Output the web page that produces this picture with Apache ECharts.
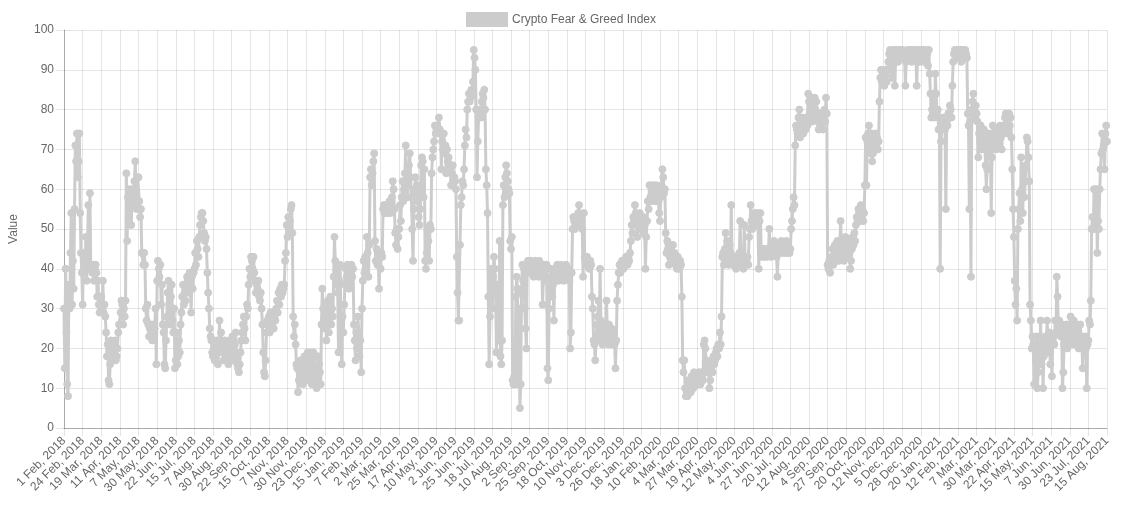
<!DOCTYPE html>
<html>
<head>
<meta charset="utf-8">
<script src="https://cdn.jsdelivr.net/npm/echarts@6/dist/echarts.min.js"></script>
<style>
html,body{margin:0;padding:0;background:#fff;}
#chart{width:1122px;height:506px;}
</style>
</head>
<body>
<div id="chart"></div>
<script>
// Daily index values, 1 Feb 2018 .. 15 Aug 2021 (each line = 23 days, starting at an axis label date)
const fngPart1 = [
30,15,40,24,11,8,36,30,44,54,31,42,35,55,71,67,74,63,67,74,54,44,39,
31,44,39,41,48,37,44,56,40,59,41,40,39,41,37,40,41,39,33,37,31,29,33,
33,30,37,29,31,28,24,18,21,12,11,16,22,17,19,21,18,22,17,18,20,24,26,
26,29,32,31,26,30,28,32,64,47,58,53,60,55,51,57,60,56,62,67,58,55,63,
63,57,53,55,44,44,41,44,41,30,27,31,26,23,25,26,24,22,26,23,25,30,16,
37,42,40,38,41,31,36,26,24,16,15,22,28,34,37,31,26,33,36,27,24,30,15,
17,24,16,18,22,19,26,29,33,36,31,34,32,35,38,37,34,39,36,29,38,35,39,
40,44,41,47,45,43,48,51,53,54,54,52,49,47,48,45,39,34,30,25,23,22,19,
18,20,17,19,22,21,16,19,27,20,24,21,19,17,20,22,18,21,19,16,20,22,18,
20,23,17,19,21,24,18,16,15,14,16,19,22,24,26,28,25,22,28,31,30,36,40,
38,43,42,40,43,39,37,34,36,35,37,33,32,34,30,26,19,14,13,17,24,27,26,
28,24,29,27,26,29,25,28,27,30,32,29,34,31,35,33,36,34,35,36,42,44,51,
48,53,50,52,55,56,49,28,23,26,21,16,15,9,12,14,17,13,15,11,14,18,16,
12,15,19,13,16,19,14,11,17,19,13,15,12,10,14,18,16,14,11,26,35,30,27
];
const fngPart2 = [
25,31,22,28,32,24,29,33,26,30,28,38,48,42,36,40,34,19,37,41,26,16,28,
24,31,36,40,38,41,37,35,39,36,41,38,40,26,22,17,24,20,28,24,18,22,14,
30,37,42,39,43,40,48,44,38,46,63,65,61,64,67,69,47,42,45,41,44,35,43,
40,44,43,55,56,54,55,56,54,56,55,57,54,56,58,62,60,55,49,46,50,45,48,
50,56,52,58,62,57,60,64,71,62,58,61,66,69,63,58,50,42,55,60,63,59,61,
57,53,51,55,66,68,67,58,65,42,40,44,50,47,42,51,50,64,68,70,72,76,74,
75,76,74,78,75,74,65,72,70,74,69,71,64,70,67,68,66,65,61,64,66,62,63,
62,60,43,34,27,27,46,56,58,62,61,65,71,75,73,80,82,84,82,83,85,84,87,
95,93,90,80,63,72,78,80,79,78,82,84,83,85,80,65,61,54,33,16,28,40,34,
30,38,43,40,35,19,36,30,22,47,18,16,22,56,61,58,63,66,64,62,60,59,47,
45,48,12,11,13,11,33,38,35,11,30,5,11,34,41,37,40,30,25,20,40,42,39,
41,40,42,39,41,38,40,42,39,41,40,38,42,40,39,41,31,38,41,37,40,41,15,
12,30,35,40,38,33,36,27,39,40,38,41,39,37,40,38,41,40,39,37,40,38,41,
39,40,38,37,20,24,39,50,53,52,50,53,51,52,54,56,51,53,52,50,38,54,43
];
const fngPart3 = [
42,41,43,42,41,40,42,41,33,30,22,21,17,22,26,28,32,22,40,27,24,21,26,
23,25,22,32,24,21,26,23,22,25,21,22,24,21,15,22,32,36,39,41,39,40,42,
41,40,42,41,43,42,41,43,42,44,47,51,49,53,52,56,54,51,48,53,52,54,50,
52,50,53,49,51,40,48,52,57,55,61,58,57,59,61,60,58,57,61,59,60,57,54,
52,58,61,65,63,59,60,49,44,47,45,41,43,46,42,44,46,43,44,41,42,40,43,
41,40,42,41,33,17,14,17,10,8,9,8,12,10,11,9,13,12,10,14,11,13,12,
13,11,14,12,11,14,13,12,21,22,20,17,15,14,16,10,12,15,17,14,18,16,17,
19,20,18,21,20,24,21,28,43,44,41,45,49,42,47,43,41,46,44,56,42,41,43,
41,42,40,43,42,41,44,52,42,41,43,40,51,43,41,42,43,41,48,50,56,52,50,
53,52,54,52,53,54,51,40,52,54,44,43,45,44,43,45,44,43,44,45,50,44,43,
45,44,46,47,44,45,43,38,44,46,45,44,47,45,44,46,45,44,47,46,44,45,44,
45,50,52,55,58,56,71,76,75,74,78,80,73,76,75,78,74,76,77,75,78,76,84,
82,79,83,80,77,81,78,83,80,82,79,77,75,78,76,79,77,75,78,80,77,83,79,
41,40,42,39,41,43,45,41,43,46,42,44,47,44,42,45,52,47,43,45,42,46,48
];
const fngPart4 = [
45,47,43,46,44,40,42,45,48,46,49,47,51,53,52,55,54,52,56,53,55,52,54,
61,73,61,72,74,76,71,69,74,67,69,72,70,74,71,73,70,72,82,88,90,87,89,
88,86,90,89,87,90,92,94,95,93,90,88,94,95,86,93,95,94,92,95,94,93,95,
94,95,93,94,86,92,94,95,94,93,95,94,92,95,94,93,95,94,86,93,95,94,92,
95,93,94,95,92,94,95,93,94,91,95,89,84,78,80,79,84,78,89,84,79,80,75,
78,40,72,75,77,78,76,75,55,77,76,79,78,81,80,78,86,92,94,95,93,95,94,
95,94,93,95,92,94,95,93,94,95,94,93,79,76,55,77,38,80,82,84,79,78,81,
79,77,68,74,72,76,70,71,73,75,72,66,60,65,73,74,71,73,54,68,76,72,74,
73,70,75,72,74,71,76,73,70,75,74,76,78,79,75,77,74,79,76,78,73,65,55,
48,37,31,35,27,50,55,59,52,68,60,54,65,58,62,66,73,72,68,62,31,27,20,
23,21,11,20,17,23,10,14,21,19,27,16,22,10,18,21,23,20,27,22,19,24,16,
21,13,22,23,21,27,24,38,33,24,27,25,23,26,10,14,21,24,22,26,20,25,23,
26,28,22,25,21,27,23,26,24,21,25,20,22,26,23,21,15,22,21,23,20,10,21,
22,27,26,32,50,53,50,60,53,50,60,44,52,50,60,65,69,74,70,71,65,74,76,
72
];
const fngValues = fngPart1.concat(fngPart2, fngPart3, fngPart4);

// Category dates (days absent from the source are skipped)
const startDate = '2018-02-01';
const missingDays = ['2018-04-14', '2018-04-15', '2018-04-16'];
const monthNames = ['Jan','Feb','Mar','Apr','May','Jun','Jul','Aug','Sep','Oct','Nov','Dec'];
const yTicks = [0, 100, 10]; // min, max, step

const dateLabels = [];
(function () {
  const d = new Date(startDate + 'T00:00:00Z');
  while (dateLabels.length < fngValues.length) {
    const iso = d.toISOString().slice(0, 10);
    if (missingDays.indexOf(iso) < 0) {
      dateLabels.push(d.getUTCDate() + ' ' + monthNames[d.getUTCMonth()] + ', ' + d.getUTCFullYear());
    }
    d.setUTCDate(d.getUTCDate() + 1);
  }
})();

const FONT = '"Liberation Sans", Arial, Helvetica, sans-serif';
const chart = echarts.init(document.getElementById('chart'), null, {renderer: 'canvas'});
chart.setOption({
  animation: false,
  backgroundColor: '#ffffff',
  textStyle: {fontFamily: FONT},
  legend: {
    top: 7,
    left: 'center',
    icon: 'rect',
    itemWidth: 40,
    itemHeight: 13,
    itemGap: 10,
    textStyle: {color: '#666', fontSize: 12, fontFamily: FONT},
    data: ['Crypto Fear & Greed Index']
  },
  grid: {left: 62, right: 15, top: 30, bottom: 78, containLabel: false},
  xAxis: {
    type: 'category',
    boundaryGap: false,
    data: dateLabels,
    axisLine: {lineStyle: {color: 'rgba(0,0,0,0.25)'}},
    axisTick: {show: true, interval: 22, length: 8, lineStyle: {color: 'rgba(0,0,0,0.1)'}},
    splitLine: {show: true, interval: 22, lineStyle: {color: 'rgba(0,0,0,0.1)', width: 1}},
    axisLabel: {interval: 22, rotate: 45, color: '#666', fontSize: 12, margin: 11, fontFamily: FONT}
  },
  yAxis: {
    type: 'value',
    min: yTicks[0],
    max: yTicks[1],
    interval: yTicks[2],
    name: 'Value',
    nameLocation: 'middle',
    nameGap: 44,
    nameRotate: 90,
    nameTextStyle: {color: '#666', fontSize: 12, fontFamily: FONT},
    axisLine: {show: true, lineStyle: {color: 'rgba(0,0,0,0.25)'}},
    axisTick: {show: true, length: 8, lineStyle: {color: 'rgba(0,0,0,0.1)'}},
    splitLine: {show: true, lineStyle: {color: 'rgba(0,0,0,0.1)', width: 1}},
    axisLabel: {color: '#666', fontSize: 12, margin: 10, fontFamily: FONT}
  },
  series: [{
    name: 'Crypto Fear & Greed Index',
    type: 'line',
    data: fngValues,
    symbol: 'circle',
    symbolSize: 7,
    showAllSymbol: true,
    sampling: null,
    lineStyle: {color: '#cccccc', width: 3},
    itemStyle: {color: '#cccccc', borderColor: '#cccccc', borderWidth: 1},
    emphasis: {disabled: true},
    silent: true
  }]
});
</script>
</body>
</html>
